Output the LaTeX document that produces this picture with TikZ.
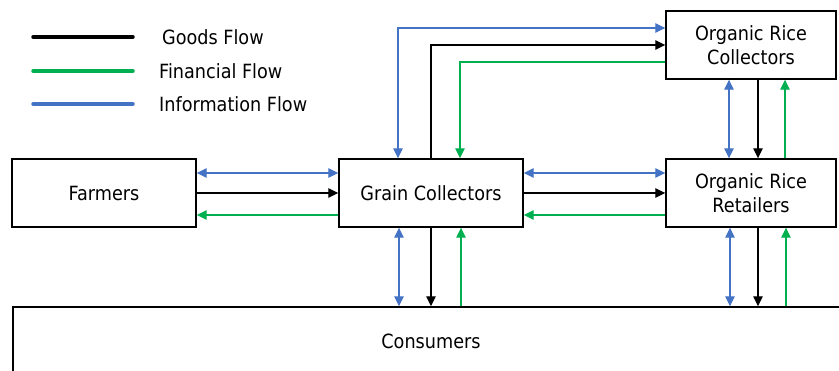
\documentclass[tikz,border=0pt]{standalone}
\usepackage{fontspec}
\setmainfont{DejaVu Sans}[FakeStretch=0.9]
\usepackage{tikz}
\usetikzlibrary{arrows.meta}
\definecolor{infoblue}{HTML}{4472C4}
\definecolor{fingreen}{HTML}{00B050}

\begin{document}
\begin{tikzpicture}[x=1pt,y=-1pt,>={Triangle[length=10pt,width=9.5pt]},
  font=\fontsize{19.6}{24}\selectfont,
  actor/.style={draw,line width=1.4pt,minimum width=184pt,minimum height=68pt,inner sep=0pt,align=center},
  goods/.style={draw=black,line width=1.3pt},
  money/.style={draw=fingreen,line width=1.2pt},
  info/.style={draw=infoblue,line width=1.2pt},
  key/.style={line width=3.5pt,line cap=round}]
  \useasboundingbox (0,0) rectangle (839,371);

  % legend
  \node[anchor=west,inner sep=0pt] (lgoods) at (162,37) {Goods Flow};
  \node[anchor=west,inner sep=0pt] (lmoney) at (159,71) {Financial Flow};
  \node[anchor=west,inner sep=0pt] (linfo)  at (159,104) {Information Flow};
  \draw[goods,key] ([xshift=-29pt]lgoods.west) -- ++(-100,0);
  \draw[money,key] ([xshift=-26pt]lmoney.west) -- ++(-100,0);
  \draw[info,key]  ([xshift=-26pt]linfo.west) -- ++(-100,0);

  % actors
  \node[actor] (farm) at (104,193) {Farmers};
  \node[actor] (gc) [right of=farm,node distance=327pt] {Grain Collectors};
  \node[actor,minimum width=170pt] (ret) [right of=gc,node distance=320pt] {Organic Rice\\Retailers};
  \node[actor,minimum width=170pt] (orc) [above of=ret,node distance=148pt] {Organic Rice\\Collectors};
  \node[actor,minimum width=836pt] (cons) [below of=gc,node distance=148pt] {Consumers};

  % farmers -- grain collectors
  \draw[info,<->] ([yshift=20pt]farm.east) -- ([yshift=20pt]gc.west);
  \draw[goods,->] (farm) -- (gc);
  \draw[money,->] ([yshift=-22pt]gc.west) -- ([yshift=-22pt]farm.east);

  % grain collectors -- retailers
  \draw[info,<->] ([yshift=20pt]gc.east) -- ([yshift=20pt]ret.west);
  \draw[goods,->] (gc) -- (ret);
  \draw[money,->] ([yshift=-22pt]ret.west) -- ([yshift=-22pt]gc.east);

  % grain collectors -- organic rice collectors
  \draw[info,<->] ([xshift=-33pt]gc.north) |- ([yshift=17pt]orc.west);
  \draw[goods,->] (gc.north) |- (orc.west);
  \draw[money,->] ([yshift=-17pt]orc.west) -| ([xshift=29pt]gc.north);

  % organic rice collectors -- retailers
  \draw[info,<->] ([xshift=-22pt]orc.south) -- ([xshift=-22pt]ret.north);
  \draw[goods,->] ([xshift=7pt]orc.south) -- ([xshift=7pt]ret.north);
  \draw[money,->] ([xshift=34pt]ret.north) -- ([xshift=34pt]orc.south);

  % to consumers
  \draw[info,<->] ([xshift=-32pt]gc.south) -- ([xshift=-32pt]gc.south |- cons.north);
  \draw[goods,->] (gc.south) -- (gc.south |- cons.north);
  \draw[money,->] ([xshift=30pt]gc.south |- cons.north) -- ([xshift=30pt]gc.south);
  \draw[info,<->] ([xshift=-21pt]ret.south) -- ([xshift=-21pt]ret.south |- cons.north);
  \draw[goods,->] ([xshift=7pt]ret.south) -- ([xshift=7pt]ret.south |- cons.north);
  \draw[money,->] ([xshift=35pt]ret.south |- cons.north) -- ([xshift=35pt]ret.south);
\end{tikzpicture}
\end{document}
